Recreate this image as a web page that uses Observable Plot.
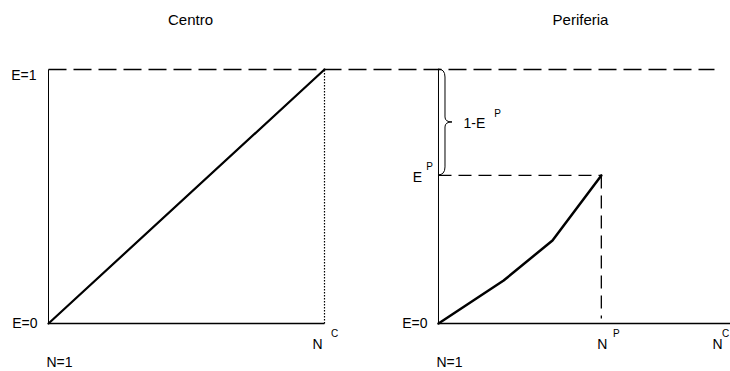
<!DOCTYPE html>
<html>
<head>
<meta charset="utf-8">
<script src="https://cdn.jsdelivr.net/npm/d3@7"></script>
<script src="https://cdn.jsdelivr.net/npm/@observablehq/plot@0.6"></script>
<style>
  html, body { margin: 0; padding: 0; background: #fff; }
  #chart svg { display: block; }
</style>
</head>
<body>
<div id="chart"></div>
<script>
// ---- data (N and E in normalised units per panel) ----
const panels = ["Centro", "Periferia"];
const panelOffset = [0, 1.413];          // origin of each panel along the shared N axis
const centroN = [0, 1];
const centroE = [0, 1];
const periferiaN = [0, 0.236, 0.413, 0.59];
const periferiaE = [0, 0.169, 0.327, 0.583];
const NP = 0.59;     // N^P
const EP = 0.583;    // E^P
const NC = 1;        // N^C
const axisEnd = 1.058; // periphery N axis runs to the edge
const eTickLabels = ["E=0", "E=1"];
const nTickLabels = ["N=1"];

const FONT = "'Liberation Sans', Arial, sans-serif";
const off = panelOffset;

const centroLine = centroN.map((n, i) => ({x: off[0] + n, y: centroE[i]}));
const periLine = periferiaN.map((n, i) => ({x: off[1] + n, y: periferiaE[i]}));

// brace mark (custom render using Plot scales)
function brace(index, {x, y}) {
  const x0 = x(off[1]);
  const yT = y(1), yB = y(EP), ym = (yT + yB) / 2;
  const w = 7;
  const d = `M${x0},${yT} Q${x0 + w},${yT} ${x0 + w},${yT + 8} L${x0 + w},${ym - 5} Q${x0 + w},${ym} ${x0 + 2 * w},${ym}` +
            ` Q${x0 + w},${ym} ${x0 + w},${ym + 5} L${x0 + w},${yB - 8} Q${x0 + w},${yB} ${x0},${yB}`;
  const p = document.createElementNS("http://www.w3.org/2000/svg", "path");
  p.setAttribute("d", d);
  p.setAttribute("fill", "none");
  p.setAttribute("stroke", "#000");
  p.setAttribute("stroke-width", "1");
  return p;
}

const txt = (data, opts) => Plot.text(data, {fontFamily: FONT, fill: "#000", ...opts});

const chart = Plot.plot({
  width: 730,
  height: 371,
  marginTop: 0, marginBottom: 0, marginLeft: 0, marginRight: 0,
  x: {domain: [0, 1], range: [48, 324], axis: null},
  y: {domain: [0, 1], range: [323, 69], axis: null},
  style: {fontFamily: FONT, background: "#fff"},
  marks: [
    // top dashed line E=1 across both panels
    Plot.link([0], {x1: off[0], x2: off[1] + NC, y1: 1, y2: 1, stroke: "#000", strokeWidth: 1.5, strokeDasharray: "18,7"}),
    // left panel frame
    Plot.link([0], {x1: off[0], x2: off[0], y1: 0, y2: 1, stroke: "#000", strokeWidth: 1}),
    Plot.link([0], {x1: off[0], x2: off[0] + NC, y1: 0, y2: 0, stroke: "#000", strokeWidth: 1.5}),
    Plot.link([0], {x1: off[0] + NC, x2: off[0] + NC, y1: 0, y2: 1, stroke: "#000", strokeWidth: 1.2, strokeDasharray: "1.5,1.5"}),
    Plot.line(centroLine, {x: "x", y: "y", stroke: "#000", strokeWidth: 2.2}),
    // right panel frame
    Plot.link([0], {x1: off[1], x2: off[1], y1: 0, y2: 1, stroke: "#000", strokeWidth: 1}),
    Plot.link([0], {x1: off[1], x2: off[1] + axisEnd, y1: 0, y2: 0, stroke: "#000", strokeWidth: 1.5}),
    Plot.link([0], {x1: off[1], x2: off[1] + NP, y1: EP, y2: EP, stroke: "#000", strokeWidth: 1.3, strokeDasharray: "13,7"}),
    Plot.link([0], {x1: off[1] + NP, x2: off[1] + NP, y1: EP, y2: 0.02, stroke: "#000", strokeWidth: 1.3, strokeDasharray: "13,7"}),
    Plot.line(periLine, {x: "x", y: "y", stroke: "#000", strokeWidth: 2.5}),
    brace,
    // titles
    txt(panels, {x: (d, i) => off[i] + 0.5, y: 1, dx: 4, dy: -49, fontSize: 15}),
    // E tick labels
    txt([0], {x: off[0], y: 1, text: () => eTickLabels[1], textAnchor: "end", dx: -12, dy: 6, fontSize: 14}),
    txt([0], {x: off[0], y: 0, text: () => eTickLabels[0], textAnchor: "end", dx: -11, dy: 0, fontSize: 14}),
    txt([0], {x: off[1], y: 0, text: () => eTickLabels[0], textAnchor: "end", dx: -11, dy: 0, fontSize: 14}),
    // N=1 labels
    txt(panelOffset, {x: d => d, y: 0, text: () => nTickLabels[0], dx: 11, dy: 39, fontSize: 14}),
    // N^C left
    txt([0], {x: off[0] + NC, y: 0, text: () => "N", dx: -7, dy: 21, fontSize: 14}),
    txt([0], {x: off[0] + NC, y: 0, text: () => "C", dx: 10, dy: 10, fontSize: 10}),
    // N^P
    txt([0], {x: off[1] + NP, y: 0, text: () => "N", dx: 1, dy: 21, fontSize: 14}),
    txt([0], {x: off[1] + NP, y: 0, text: () => "P", dx: 15, dy: 10, fontSize: 10}),
    // N^C right
    txt([0], {x: off[1] + NC, y: 0, text: () => "N", dx: 3, dy: 21, fontSize: 14}),
    txt([0], {x: off[1] + NC, y: 0, text: () => "C", dx: 11, dy: 10, fontSize: 10}),
    // E^P
    txt([0], {x: off[1], y: EP, text: () => "E", dx: -21, dy: 2, fontSize: 14}),
    txt([0], {x: off[1], y: EP, text: () => "P", dx: -9, dy: -9, fontSize: 10}),
    // 1-E^P
    txt([0], {x: off[1], y: (1 + EP) / 2, text: () => "1-E", textAnchor: "start", dx: 25, dy: 1, fontSize: 14}),
    txt([0], {x: off[1], y: (1 + EP) / 2, text: () => "P", dx: 59, dy: -9, fontSize: 10})
  ]
});
document.getElementById("chart").appendChild(chart);
</script>
</body>
</html>
